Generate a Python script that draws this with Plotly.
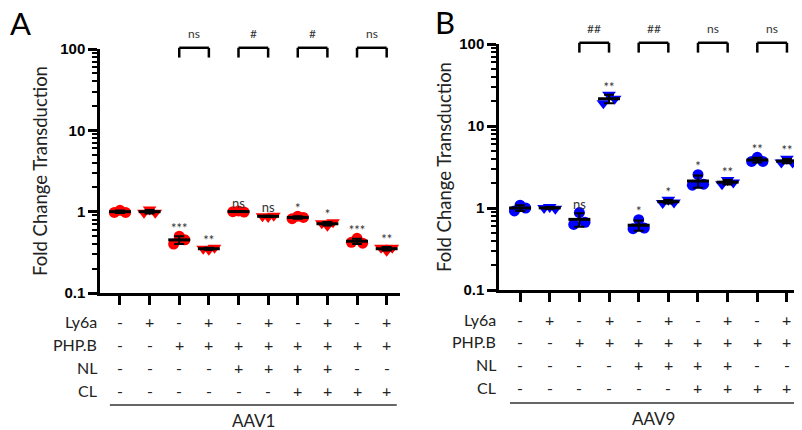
import numpy as np
import plotly.graph_objects as go

# ---------------- data ----------------
n_groups = 10
ly6a  = ["-", "+", "-", "+", "-", "+", "-", "+", "-", "+"]
phpb  = ["-", "-", "+", "+", "+", "+", "+", "+", "+", "+"]
nl    = ["-", "-", "-", "-", "+", "+", "+", "+", "-", "-"]
cl    = ["-", "-", "-", "-", "-", "-", "+", "+", "+", "+"]
row_names = ["Ly6a", "PHP.B", "NL", "CL"]

# replicate values per group: [left, centre, right]
aav1_points = [
    [0.98, 1.04, 0.98],
    [0.97, 1.06, 0.97],
    [0.40, 0.50, 0.45],
    [0.35, 0.34, 0.36],
    [1.00, 1.02, 0.99],
    [0.88, 0.86, 0.89],
    [0.82, 0.88, 0.85],
    [0.72, 0.67, 0.74],
    [0.42, 0.47, 0.41],
    [0.36, 0.33, 0.36],
]
aav9_points = [
    [0.92, 1.08, 1.00],
    [1.00, 1.03, 0.98],
    [0.63, 0.88, 0.67],
    [19.0, 24.0, 21.5],
    [0.56, 0.72, 0.57],
    [1.15, 1.26, 1.17],
    [1.90, 2.55, 1.95],
    [1.95, 2.20, 2.05],
    [3.70, 4.15, 3.70],
    [3.60, 4.00, 3.60],
]
aav1_sig = ["", "", "***", "**", "ns", "ns", "*", "*", "***", "**"]
aav9_sig = ["", "", "ns", "**", "*", "*", "*", "**", "**", "**"]
bracket_pairs = [(2, 3), (4, 5), (6, 7), (8, 9)]
aav1_bracket_labels = ["ns", "#", "#", "ns"]
aav9_bracket_labels = ["##", "##", "ns", "ns"]
y_ticks = [0.1, 1, 10, 100]
y_ticktext = ["0.1", "1", "10", "100"]

# ---------------- style ----------------
OFF = 8                  # page body margin
W, H = 802 - OFF, 430 - OFF
FONT = "Lato"
TICKFONT = "Liberation Sans"
offsets = [-0.19, 0.0, 0.19]
half_mean = 0.37


def px(x):
    return (x - OFF) / W


def py(y):
    return 1 - (y - OFF) / H


panels = [
    dict(points=aav1_points, sig=aav1_sig, blabels=aav1_bracket_labels,
         color="#FF0000", name="AAV1", letter="A",
         xdom=[px(100), px(400)], xrange=[-0.674, 9.45],
         ydom=[py(293), py(49)],
         rows_y=[321, 344, 367, 390], line_y=405, name_y=420,
         letter_x=20, letter_y=23, title_x=40),
    dict(points=aav9_points, sig=aav9_sig, blabels=aav9_bracket_labels,
         color="#0000FF", name="AAV9", letter="B",
         xdom=[px(499), px(800)], xrange=[-0.71, 9.44],
         ydom=[py(290), py(44)],
         rows_y=[319, 341, 364, 387], line_y=403, name_y=418,
         letter_x=445, letter_y=22, title_x=444),
]

fig = go.Figure()
shapes = []
annotations = []
minor_vals = [m * 10.0 ** e for e in range(-1, 2) for m in range(2, 10)]

for p_i, P in enumerate(panels):
    sfx = "" if p_i == 0 else str(p_i + 1)
    xa, ya = "x" + sfx, "y" + sfx
    pts = np.array(P["points"])
    means = pts.mean(axis=1)
    sds = pts.std(axis=1, ddof=1)

    # replicate points
    for g in range(n_groups):
        sym = "circle" if g % 2 == 0 else "triangle-down"
        fig.add_trace(go.Scatter(
            x=[g + o for o in offsets], y=pts[g], mode="markers",
            marker=dict(symbol=sym, size=11 if g % 2 == 0 else 12,
                        color=P["color"], line=dict(width=0)),
            xaxis=xa, yaxis=ya, showlegend=False, hoverinfo="skip"))

    # mean lines
    mx, my = [], []
    for g in range(n_groups):
        mx += [g - half_mean, g + half_mean, None]
        my += [means[g], means[g], None]
    fig.add_trace(go.Scatter(x=mx, y=my, mode="lines",
                             line=dict(color="black", width=3),
                             xaxis=xa, yaxis=ya, showlegend=False, hoverinfo="skip"))
    # error bars (SD)
    fig.add_trace(go.Scatter(
        x=list(range(n_groups)), y=means, mode="markers",
        marker=dict(size=1, color="black"),
        error_y=dict(type="data", array=sds, color="black", thickness=2, width=5),
        xaxis=xa, yaxis=ya, showlegend=False, hoverinfo="skip"))

    # significance labels above groups
    tops = np.maximum(pts.max(axis=1), means + sds)
    fig.add_trace(go.Scatter(
        x=list(range(n_groups)), y=tops, mode="text", text=P["sig"],
        textposition="top center",
        textfont=dict(family=FONT, size=13, color="#333333"),
        cliponaxis=False, xaxis=xa, yaxis=ya, showlegend=False, hoverinfo="skip"))

    # brackets
    for (a, b), lab in zip(bracket_pairs, P["blabels"]):
        for x0, y0, x1, y1 in [(a, 0.965, a, 1.005), (a, 1.005, b, 1.005), (b, 1.005, b, 0.965)]:
            shapes.append(dict(type="line", xref=xa, yref=ya + " domain",
                               x0=x0, y0=y0, x1=x1, y1=y1,
                               line=dict(color="black", width=2.5)))
        annotations.append(dict(x=(a + b) / 2, y=1.065, xref=xa, yref=ya + " domain",
                                text=lab, showarrow=False, xanchor="center",
                                yanchor="middle",
                                font=dict(family=FONT, size=12, color="#333333")))

    # condition table
    rows = [ly6a, phpb, nl, cl]
    for r, (rname, rvals) in enumerate(zip(row_names, rows)):
        yp = py(P["rows_y"][r])
        annotations.append(dict(x=0, y=yp, xref=xa + " domain", yref="paper",
                                text=rname, showarrow=False, xanchor="right",
                                yanchor="middle", xshift=-1,
                                font=dict(family=FONT, size=16, color="#222222")))
        for g, v in enumerate(rvals):
            annotations.append(dict(x=g, y=yp, xref=xa, yref="paper", text=v,
                                    showarrow=False, xanchor="center", yanchor="middle",
                                    font=dict(family=FONT, size=16, color="#222222")))
    shapes.append(dict(type="line", xref=xa, yref="paper", x0=-0.34, x1=9.34,
                       y0=py(P["line_y"]), y1=py(P["line_y"]),
                       line=dict(color="#333333", width=1.5)))
    annotations.append(dict(x=4.5, y=py(P["name_y"]), xref=xa, yref="paper",
                            text=P["name"], showarrow=False, xanchor="center",
                            yanchor="middle",
                            font=dict(family=FONT, size=17, color="#222222")))
    # panel letter
    annotations.append(dict(x=px(P["letter_x"]), y=py(P["letter_y"]), xref="paper",
                            yref="paper", text=P["letter"], showarrow=False,
                            xanchor="center", yanchor="middle",
                            font=dict(family=FONT, size=31, color="black")))
    # y title
    annotations.append(dict(x=px(P["title_x"]), y=(P["ydom"][0] + P["ydom"][1]) / 2,
                            xref="paper", yref="paper", text="Fold Change Transduction",
                            textangle=-90, showarrow=False, xanchor="center",
                            yanchor="middle",
                            font=dict(family=FONT, size=18.5, color="#222222")))

    fig.update_layout(**{
        "xaxis" + sfx: dict(domain=P["xdom"], range=P["xrange"], anchor=ya,
                            showline=True, linewidth=2.5, linecolor="black",
                            tickmode="array", tickvals=list(range(n_groups)),
                            showticklabels=False, ticks="outside", ticklen=9,
                            tickwidth=2.5, tickcolor="black", showgrid=False,
                            zeroline=False, fixedrange=True, automargin=False),
        "yaxis" + sfx: dict(domain=P["ydom"], type="log", range=[-1, 2], anchor=xa,
                            showline=True, linewidth=2.5, linecolor="black",
                            tickmode="array", tickvals=y_ticks, ticktext=y_ticktext,
                            ticks="outside", ticklen=9, tickwidth=2.5, tickcolor="black",
                            tickfont=dict(family=TICKFONT, size=15, color="black",
                                          weight="bold"),
                            minor=dict(ticks="outside", ticklen=5, tickwidth=1.5,
                                       tickcolor="black", tickmode="array",
                                       tickvals=minor_vals, showgrid=False),
                            showgrid=False, zeroline=False, fixedrange=True,
                            automargin=False),
    })

fig.update_layout(width=W, height=H, margin=dict(l=0, r=0, t=0, b=0, autoexpand=False),
                  paper_bgcolor="white", plot_bgcolor="white",
                  shapes=shapes, annotations=annotations, showlegend=False)
fig.write_html("out.html")
